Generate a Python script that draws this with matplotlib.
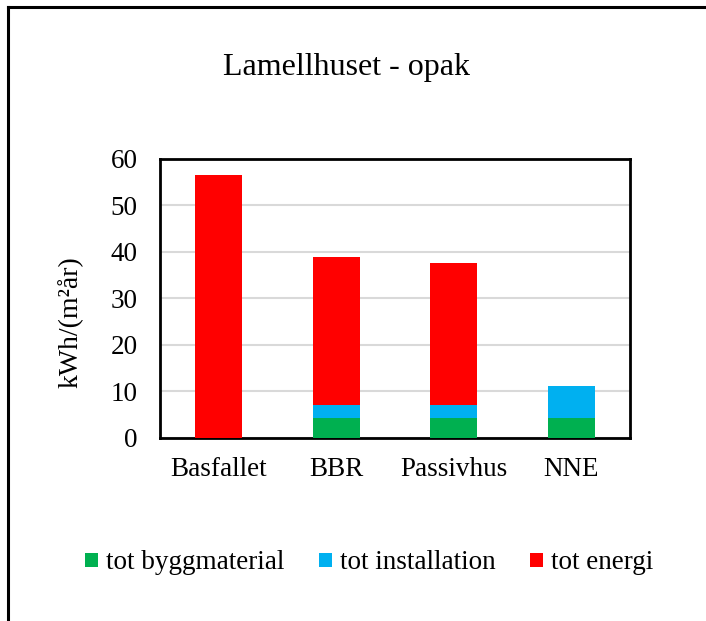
import numpy as np
import matplotlib.pyplot as plt
from matplotlib.lines import Line2D
from matplotlib.patches import Patch

plt.rcParams['font.family'] = ['Liberation Serif', 'DejaVu Serif']

# Data
categories = ['Basfallet', 'BBR', 'Passivhus', 'NNE']
byggmaterial = np.array([0.0, 4.4, 4.4, 4.4])
installation = np.array([0.0, 2.6, 2.6, 6.7])
energi = np.array([56.6, 31.9, 30.6, 0.0])

series_names = ['tot byggmaterial', 'tot installation', 'tot energi']
colors = ['#00b050', '#00b0f0', '#ff0000']

fig = plt.figure(figsize=(7.06, 6.21), dpi=100)
ax = fig.add_axes([0.2266, 0.2947, 0.6654, 0.4493])

x = np.arange(len(categories))
w = 0.4
ax.bar(x, byggmaterial, w, color=colors[0], zorder=3)
ax.bar(x, installation, w, bottom=byggmaterial, color=colors[1], zorder=3)
ax.bar(x, energi, w, bottom=byggmaterial + installation, color=colors[2], zorder=3)

ax.set_xlim(-0.5, len(categories) - 0.5)
ax.set_ylim(0, 60)
ax.set_yticks(np.arange(0, 61, 10))
ax.set_xticks(x)
ax.set_xticklabels(categories)
ax.tick_params(length=0, labelsize=19.5)
ax.tick_params(axis='x', pad=14)
ax.tick_params(axis='y', pad=16)
ax.yaxis.grid(True, color='#d9d9d9', linewidth=1.5, zorder=0)
ax.set_axisbelow(True)
for s in ax.spines.values():
    s.set_linewidth(2)
    s.set_color('black')

fig.text(71 / 706, 1 - 322 / 621, 'kWh/(m²år)', rotation=90, ha='center', va='center',
         fontsize=20)
fig.text(0.491, 0.8905, 'Lamellhuset - opak', ha='center', va='center', fontsize=23)

# legend
handles = [Patch(facecolor=c, edgecolor='none') for c in colors]
fig.legend(handles, series_names, loc='center', bbox_to_anchor=(0.523, 0.0934),
           ncol=3, frameon=False, fontsize=19.5, handlelength=0.45, handleheight=0.45,
           handletextpad=0.3, columnspacing=1.3)

# outer border (right/bottom cut off in the original)
fig.add_artist(Line2D([8 / 706, 8 / 706], [0, 1 - 7 / 621], color='black', linewidth=2.2,
                      transform=fig.transFigure))
fig.add_artist(Line2D([8 / 706, 1], [1 - 7 / 621, 1 - 7 / 621], color='black', linewidth=2.2,
                      transform=fig.transFigure))

fig.savefig('out.png', dpi=100)
